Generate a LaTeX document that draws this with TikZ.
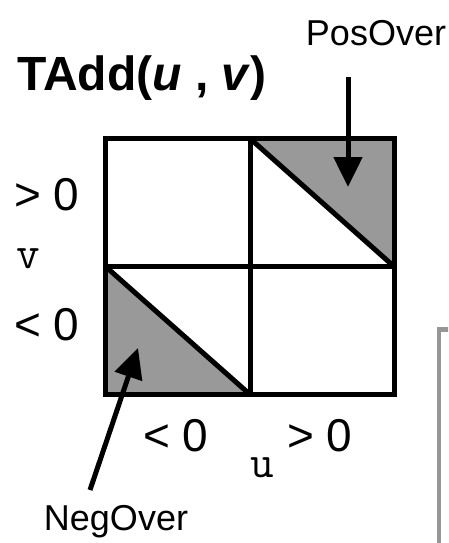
\documentclass[tikz,border=0pt]{standalone}
\usepackage{fontspec}
\setmainfont{Liberation Sans}
\usetikzlibrary{positioning,calc,arrows.meta}
\definecolor{OverGray}{RGB}{153,153,153}
\definecolor{FrameGray}{RGB}{150,150,150}
\tikzset{
	cellline/.style={draw=black,line width=5pt},
	lbl/.style={font=\fontsize{46}{50}\selectfont,inner sep=0pt},
	axisname/.style={font=\ttfamily\fontsize{46}{50}\selectfont,inner sep=0pt},
	callout/.style={font=\fontsize{36}{40}\selectfont,inner sep=0pt},
	pointer/.style={draw=black,line width=5pt,-{Triangle[width=28pt,length=30pt]}},
}

\begin{document}
\begin{tikzpicture}[x=1pt,y=-1pt]
	\clip (0,0) rectangle (448,543);
	\coordinate (tl) at (105.5,138.5);
	\coordinate (tm) at (250,138.5);
	\coordinate (tr) at (394,138.5);
	\coordinate (ml) at (105.5,266.5);
	\coordinate (mr) at (394,266.5);
	\coordinate (bl) at (105.5,394.5);
	\coordinate (bm) at (250,394.5);
	\coordinate (br) at (394,394.5);
	\fill[OverGray] (tm)--(tr)--(mr)--cycle;
	\fill[OverGray] (ml)--(bl)--(bm)--cycle;
	\draw[cellline] (tl) rectangle (br);
	\draw[cellline] (tm)--(bm);
	\draw[cellline] (ml)--(mr);
	\draw[cellline] (tm)--(mr);
	\draw[cellline] (ml)--(bm);
	\node (title) [font=\bfseries\fontsize{48}{52}\selectfont,inner sep=0pt] at (142,78) {TAdd(\textit{u} , \textit{v})};
	\node (vpos) [lbl] at (47,195) {> 0};
	\node (vname) [axisname] at (28,259) {v};
	\node (vneg) [lbl] at (47,325) {< 0};
	\node (uneg) [lbl] at (176,436) {< 0};
	\node (upos) [lbl] at (320,436) {> 0};
	\node (uname) [axisname] at (262,468) {u};
	\node (posover) [callout] at (376,33) {PosOver};
	\node (negover) [callout] at (116,522) {NegOver};
	\coordinate (postail) at (348,77);
	\coordinate (poshead) at (348,187);
	\coordinate (negtail) at (90,490);
	\coordinate (neghead) at (138,348);
	\draw[pointer] (postail)--(poshead);
	\draw[pointer] (negtail)--(neghead);
	% frame at the right edge
	\draw[FrameGray,line width=4.5pt] (439,329.5) rectangle (480,600);
\end{tikzpicture}
\end{document}
